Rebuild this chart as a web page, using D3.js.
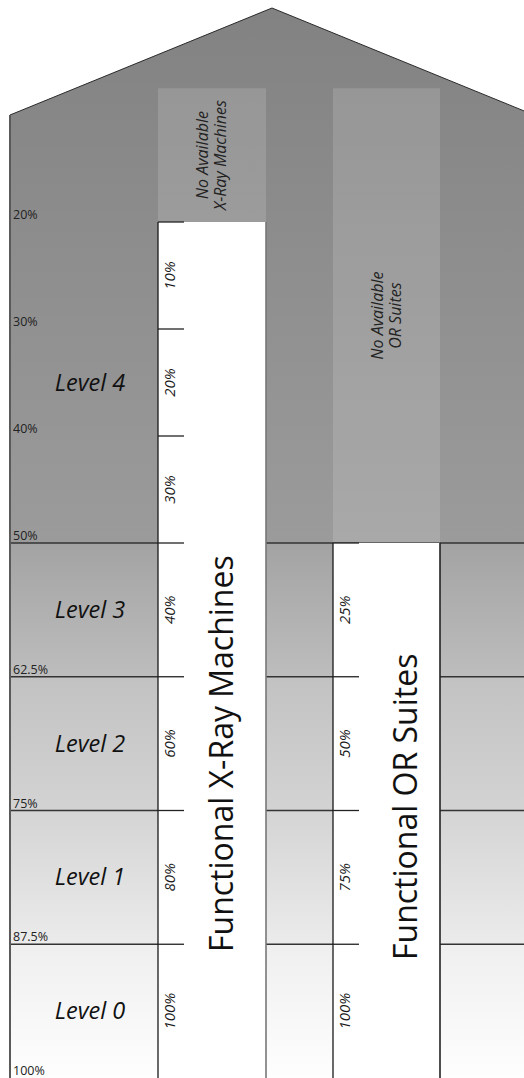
<!DOCTYPE html>
<meta charset="utf-8">
<script src="https://d3js.org/d3.v7.min.js"></script>
<style>
  body { margin: 0; background: #fff; font-family: 'Open Sans', sans-serif; }
</style>
<body>
<div id="my_dataviz"></div>
<script>
// levels of the building, top and bottom on the percent scale
var levels = ["Level 4", "Level 3", "Level 2", "Level 1", "Level 0"];
var levelTop = [20, 50, 62.5, 75, 87.5];
var levelBottom = [50, 62.5, 75, 87.5, 100];
var levelColorTop = ["#828282", "#a3a3a3", "#c2c2c2", "#d4d4d4", "#efefef"];
var levelColorBottom = ["#9b9b9b", "#bdbdbd", "#d3d3d3", "#ebebeb", "#fefefe"];

// left scale ticks
var axisTicks = [20, 30, 40, 50, 62.5, 75, 87.5, 100];

// x-ray machine column
var xrayBreaks = [20, 30, 40, 50, 62.5, 75, 87.5, 100];
var xrayLabels = ["10%", "20%", "30%", "40%", "60%", "80%", "100%"];
// OR suites column
var orBreaks = [50, 62.5, 75, 87.5, 100];
var orLabels = ["25%", "50%", "75%", "100%"];

var roofTop = 0, wallTop = 10, boxTop = 7.5;

var width = 524, height = 1078;
var left = 10, right = 534;
var cols = [
  { x0: 158, x1: 266, breaks: xrayBreaks, labels: xrayLabels, title: "Functional X-Ray Machines",
    none: ["No Available", "X-Ray Machines"], titleX: 233, titleStart: 952, rightStroke: "#777" },
  { x0: 333, x1: 440, breaks: orBreaks, labels: orLabels, title: "Functional OR Suites",
    none: ["No Available", "OR Suites"], titleX: 417, titleStart: 960, rightStroke: "#222" }
];

var svg = d3.select("#my_dataviz")
  .append("svg")
    .attr("width", width)
    .attr("height", height);

var y = d3.scaleLinear().domain([0, 100]).range([8, 1078]);
var mid = (left + right) / 2;

// gradients
var defs = svg.append("defs");
levels.forEach(function(l, i) {
  var g = defs.append("linearGradient")
    .attr("id", "grad" + i)
    .attr("gradientUnits", "userSpaceOnUse")
    .attr("x1", 0).attr("x2", 0)
    .attr("y1", i == 0 ? y(roofTop) : y(levelTop[i]))
    .attr("y2", y(levelBottom[i]));
  g.append("stop").attr("offset", "0%").attr("stop-color", levelColorTop[i]);
  g.append("stop").attr("offset", "100%").attr("stop-color", levelColorBottom[i]);
});

// building shell (roof + level 4)
var shell = [[left, y(100)], [left, y(wallTop)], [mid, y(roofTop)], [right, y(wallTop)], [right, y(100)]];
svg.append("path")
  .attr("d", d3.line()(shell) + "Z")
  .style("fill", "url(#grad0)");

// lower levels
svg.selectAll(".band")
  .data(levels.slice(1))
  .enter()
  .append("rect")
    .attr("x", left)
    .attr("width", right - left)
    .attr("y", function(d, i) { return y(levelTop[i + 1]); })
    .attr("height", function(d, i) { return y(levelBottom[i + 1]) - y(levelTop[i + 1]); })
    .style("fill", function(d, i) { return "url(#grad" + (i + 1) + ")"; });

// level lines
svg.selectAll(".levelLine")
  .data(levelBottom.slice(0, 4))
  .enter()
  .append("line")
    .attr("x1", left).attr("x2", right)
    .attr("y1", function(d) { return y(d); })
    .attr("y2", function(d) { return y(d); })
    .style("stroke", "#333")
    .style("stroke-width", 1.3);

// roof outline and wall
svg.append("path")
  .attr("d", d3.line()([[left, y(wallTop)], [mid, y(roofTop)], [right, y(wallTop)]]))
  .style("fill", "none")
  .style("stroke", "#2a2a2a")
  .style("stroke-width", 1);
svg.append("line")
  .attr("x1", left).attr("x2", left)
  .attr("y1", y(wallTop)).attr("y2", y(100))
  .style("stroke", "#5a5a5a")
  .style("stroke-width", 2);

// columns
cols.forEach(function(c) {
  var top = c.breaks[0];
  // unavailable box
  svg.append("rect")
    .attr("x", c.x0).attr("width", c.x1 - c.x0)
    .attr("y", y(boxTop)).attr("height", y(top) - y(boxTop))
    .style("fill", "#fff").style("opacity", 0.14);
  var cx = (c.x0 + c.x1) / 2, cy = (y(boxTop) + y(top)) / 2;
  var t = svg.append("text")
    .attr("transform", "translate(" + cx + "," + cy + ") rotate(-90)")
    .attr("text-anchor", "middle")
    .style("font-size", "16px")
    .style("font-style", "italic")
    .style("fill", "#222");
  t.append("tspan").attr("x", 0).attr("y", -4).text(c.none[0]);
  t.append("tspan").attr("x", 0).attr("y", 14).text(c.none[1]);

  // functional part
  svg.append("rect")
    .attr("x", c.x0).attr("width", c.x1 - c.x0)
    .attr("y", y(top)).attr("height", y(100) - y(top))
    .style("fill", "#fff");
  svg.append("line")
    .attr("x1", c.x0).attr("x2", c.x0)
    .attr("y1", y(top)).attr("y2", y(100))
    .style("stroke", "#1a1a1a").style("stroke-width", 1.3);
  svg.append("line")
    .attr("x1", c.x1).attr("x2", c.x1)
    .attr("y1", y(top)).attr("y2", y(100))
    .style("stroke", c.rightStroke).style("stroke-width", 1.6);

  // ticks
  svg.selectAll(null)
    .data(c.breaks.slice(0, -1))
    .enter()
    .append("line")
      .attr("x1", c.x0).attr("x2", c.x0 + 26)
      .attr("y1", function(d) { return y(d); })
      .attr("y2", function(d) { return y(d); })
      .style("stroke", "#222")
      .style("stroke-width", 1.3);

  // segment labels
  svg.selectAll(null)
    .data(c.labels)
    .enter()
    .append("text")
      .attr("transform", function(d, i) {
        var m = (y(c.breaks[i]) + y(c.breaks[i + 1])) / 2;
        return "translate(" + (c.x0 + 17) + "," + m + ") rotate(-90)";
      })
      .attr("text-anchor", "middle")
      .style("font-size", "15px")
      .style("font-style", "italic")
      .style("fill", "#1a1a1a")
      .text(function(d) { return d; });

  // column title
  svg.append("text")
    .attr("transform", "translate(" + c.titleX + "," + c.titleStart + ") rotate(-90)")
    .style("font-size", "32px")
    .style("fill", "#111")
    .text(c.title);
});

// level labels
svg.selectAll(".levelLabel")
  .data(levels)
  .enter()
  .append("text")
    .attr("x", 90)
    .attr("y", function(d, i) { return (y(levelTop[i]) + y(levelBottom[i])) / 2 + 8; })
    .attr("text-anchor", "middle")
    .style("font-size", "23.5px")
    .style("font-style", "italic")
    .style("fill", "#111")
    .text(function(d) { return d; });

// left scale
var axis = svg.append("g")
  .attr("transform", "translate(" + left + ",0)")
  .call(d3.axisRight(y).tickValues(axisTicks).tickSize(0).tickFormat(function(d) { return d + "%"; }));
axis.select(".domain").remove();
axis.selectAll("text")
  .attr("x", 3)
  .attr("dy", "-0.28em")
  .style("font-family", "'Open Sans', sans-serif")
  .style("font-size", "12.5px")
  .style("fill", "#222");
</script>
</body>
